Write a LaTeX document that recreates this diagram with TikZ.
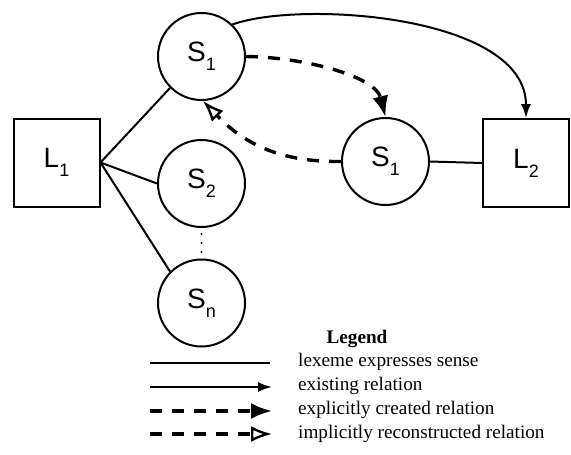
\documentclass[tikz,border=0pt]{standalone}
\usepackage{fontspec}
\setmainfont{Liberation Serif}
\newfontfamily\labelfont{Liberation Sans}
\usetikzlibrary{arrows.meta}
\tikzset{
  sense/.style={circle, draw, line width=2pt, minimum size=87pt, inner sep=0pt, font=\labelfont\fontsize{28}{28}\selectfont},
  lexeme/.style={rectangle, draw, line width=2pt, minimum width=86pt, minimum height=88pt, inner sep=0pt, font=\labelfont\fontsize{28}{28}\selectfont},
  expresses/.style={line width=2pt},
  existing/.style={line width=2pt, -{Latex[length=14pt,width=10pt]}},
  explicit/.style={line width=3.4pt, dash pattern=on 12pt off 10pt, -{Latex[length=21pt,width=16pt]}},
  implicit/.style={line width=3.4pt, dash pattern=on 12pt off 10pt, -{Latex[open,length=21pt,width=16pt,line width=2.4pt]}},
  legendtext/.style={anchor=west, font=\fontsize{19.2}{19.2}\selectfont, inner sep=0pt},
  ellipsisdot/.style={circle, fill, inner sep=0pt, minimum size=2.2pt}
}
\newcommand{\lbl}[2]{#1\raisebox{-0.32em}{\fontsize{18}{18}\selectfont #2}}
\begin{document}
\begin{tikzpicture}[x=1pt,y=-1pt]
\useasboundingbox (0,0) rectangle (571,455);
% nodes
\node[lexeme] (L1) at (56.5,162.5) {\lbl{L}{1}};
\node[sense] (S1) at (201.5,56.5) {\lbl{S}{1}};
\node[sense] (S2) at (201.5,183.5) {\lbl{S}{2}};
\node[sense] (Sn) at (201.5,303) {\lbl{S}{n}};
\node[sense] (T1) at (385.5,161.5) {\lbl{S}{1}};
\node[lexeme] (L2) at (526,163) {\lbl{L}{2}};
% vertical ellipsis between S2 and Sn
\node[ellipsisdot] (d1) at (201.5,234) {};
\node[ellipsisdot] (d2) at (201.5,243) {};
\node[ellipsisdot] (d3) at (201.5,252) {};
% lexeme-sense links
\draw[expresses] (L1.east) -- (S1.225);
\draw[expresses] (L1.east) -- (S2.west);
\draw[expresses] (L1.east) -- (Sn.135);
\draw[expresses] (T1.east) -- (L2.west);
% relations
\draw[existing] (S1.46) .. controls (300,0) and (526,15) .. (L2.north);
\draw[explicit] (S1.east) .. controls (300,57) and (375,75) .. (T1.north);
\draw[implicit] (T1.west) .. controls (290,162) and (250,150) .. (S1.272);
% legend
\node[font=\bfseries\fontsize{19.2}{19.2}\selectfont, inner sep=0pt] (leg) at (357,339) {Legend};
\coordinate (a1) at (150,363); \coordinate (b1) at (270,363);
\coordinate (a2) at (150,387); \coordinate (b2) at (272,387);
\coordinate (a3) at (150,411); \coordinate (b3) at (272,411);
\coordinate (a4) at (150,434); \coordinate (b4) at (272,434);
\draw[expresses] (a1) -- (b1);
\draw[existing] (a2) -- (b2);
\draw[explicit] (a3) -- (b3);
\draw[implicit] (a4) -- (b4);
\node[legendtext] (t1) at (298,362) {lexeme expresses sense};
\node[legendtext] (t2) at (298,386) {existing relation};
\node[legendtext] (t3) at (298,410) {explicitly created relation};
\node[legendtext] (t4) at (298,434) {implicitly reconstructed relation};
\end{tikzpicture}
\end{document}
